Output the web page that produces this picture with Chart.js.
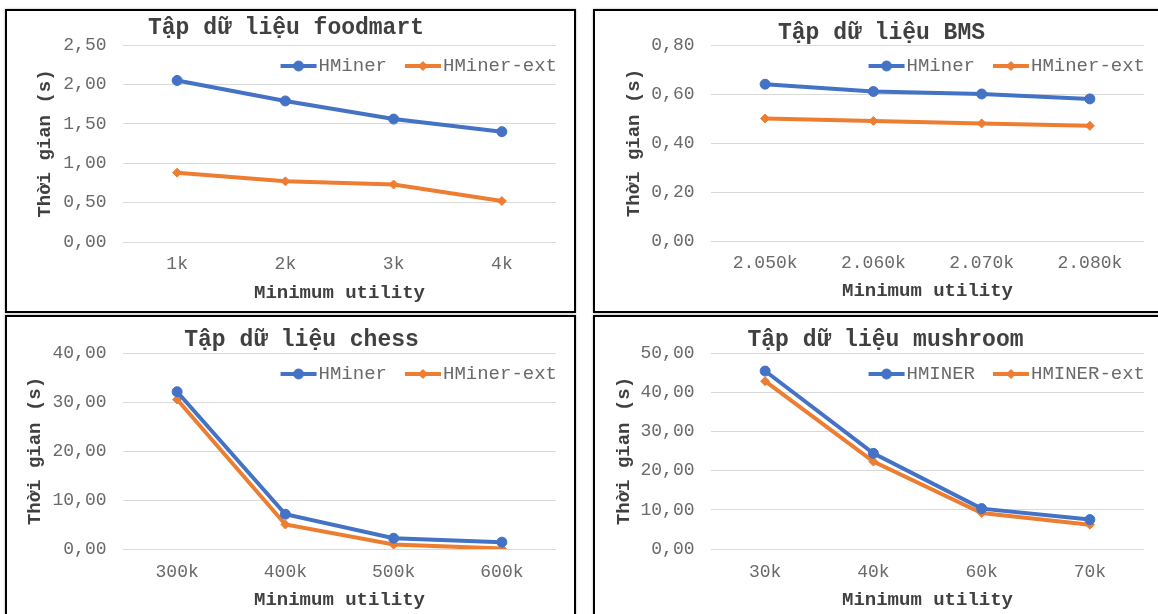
<!DOCTYPE html>
<html lang="vi">
<head>
<meta charset="utf-8">
<title>Thời gian chạy HMiner</title>
<script src="https://cdn.jsdelivr.net/npm/chart.js@4.4.1/dist/chart.umd.min.js"></script>
<style>
  html, body { margin: 0; padding: 0; background: #fff; overflow: hidden; }
  body { width: 1158px; height: 614px; position: relative; }
  .panel {
    position: absolute;
    border: 2px solid #000;
    box-shadow: 0 0 2px rgba(0, 0, 0, 0.35);
    background: #fff;
  }
  .panel canvas { display: block; }
</style>
</head>
<body>
<div class="panel" style="left:5px;top:9px"><canvas id="foodmart" width="567" height="300"></canvas></div>
<div class="panel" style="left:593px;top:9px"><canvas id="bms" width="567" height="300"></canvas></div>
<div class="panel" style="left:5px;top:315px"><canvas id="chess" width="567" height="300"></canvas></div>
<div class="panel" style="left:593px;top:315px"><canvas id="mushroom" width="567" height="300"></canvas></div>

<script>
/* ---- dữ liệu ---- */
const foodmartLabels = ['1k', '2k', '3k', '4k'];
const foodmartHMiner = [2.05, 1.79, 1.56, 1.40];
const foodmartExt    = [0.88, 0.77, 0.73, 0.52];
const foodmartTicks  = [0, 0.5, 1, 1.5, 2, 2.5];

const bmsLabels = ['2.050k', '2.060k', '2.070k', '2.080k'];
const bmsHMiner = [0.64, 0.61, 0.60, 0.58];
const bmsExt    = [0.50, 0.49, 0.48, 0.47];
const bmsTicks  = [0, 0.2, 0.4, 0.6, 0.8];

const chessLabels = ['300k', '400k', '500k', '600k'];
const chessHMiner = [32.1, 7.1, 2.2, 1.4];
const chessExt    = [30.5, 5.0, 0.9, 0.1];
const chessTicks  = [0, 10, 20, 30, 40];

const mushroomLabels = ['30k', '40k', '60k', '70k'];
const mushroomHMiner = [45.4, 24.4, 10.3, 7.5];
const mushroomExt    = [42.8, 22.3, 9.2, 6.2];
const mushroomTicks  = [0, 10, 20, 30, 40, 50];

const BLUE = '#4472C4';
const ORANGE = '#ED7D31';
const MONO = '"Liberation Mono", "Courier New", monospace';
const TXT = '#6a6a6a';
const DARK = '#404040';
const GRID = '#d9d9d9';

/* chú giải vẽ bên trong vùng đồ thị, căn phải */
const insideLegend = {
  id: 'insideLegend',
  afterDatasetsDraw(chart, args, opts) {
    const ctx = chart.ctx;
    const area = chart.chartArea;
    const y = area.top + opts.offsetY;
    let x = area.right + opts.offsetX;
    ctx.save();
    ctx.font = '19px ' + MONO;
    ctx.textBaseline = 'middle';
    ctx.textAlign = 'left';
    chart.data.datasets.slice().reverse().forEach(function (ds) {
      const w = ctx.measureText(ds.label).width;
      x -= w;
      ctx.fillStyle = TXT;
      ctx.fillText(ds.label, x, y);
      x -= opts.textGap + opts.lineLength;
      ctx.strokeStyle = ds.borderColor;
      ctx.lineWidth = ds.borderWidth;
      ctx.beginPath();
      ctx.moveTo(x, y);
      ctx.lineTo(x + opts.lineLength, y);
      ctx.stroke();
      ctx.fillStyle = ds.backgroundColor;
      ctx.lineWidth = 1;
      Chart.helpers.drawPoint(ctx, {
        pointStyle: ds.pointStyle, radius: ds.pointRadius, rotation: 0, borderWidth: 1
      }, x + opts.lineLength / 2, y);
      x -= opts.itemGap;
    });
    ctx.restore();
  }
};

function makeChart(id, title, labels, names, a, b, ticks, f) {
  const plotRight = 549;
  const plotLeft = 116;
  const H = 300;
  // lề trái dùng để dời tiêu đề; không được vượt qua nhãn trục y (bị cắt)
  const padL = Math.min(2 * f.titleX - plotRight, 40);

  return new Chart(document.getElementById(id), {
    type: 'line',
    data: {
      labels: labels,
      datasets: [
        {
          label: names[0], data: a,
          borderColor: BLUE, backgroundColor: BLUE,
          borderWidth: 4, pointStyle: 'circle', pointRadius: 5,
          pointBorderWidth: 1, tension: 0
        },
        {
          label: names[1], data: b,
          borderColor: ORANGE, backgroundColor: ORANGE,
          borderWidth: 4, pointStyle: 'rectRot', pointRadius: 4.5,
          pointBorderWidth: 1, tension: 0
        }
      ]
    },
    options: {
      responsive: false,
      animation: false,
      devicePixelRatio: 1,
      layout: { padding: { left: padL, right: 567 - plotRight, top: 0, bottom: 0 } },
      plugins: {
        legend: { display: false },
        tooltip: { enabled: false },
        title: {
          display: true,
          text: title,
          color: DARK,
          font: { family: MONO, size: 23, weight: 'bold', lineHeight: 1 },
          padding: { top: f.titleY - 11.5, bottom: f.top - f.titleY - 11.5 }
        },
        insideLegend: { offsetX: 1, offsetY: 21, lineLength: 36, textGap: 2, itemGap: 18 }
      },
      scales: {
        x: {
          offset: true,
          grid: { display: false, drawTicks: false },
          border: { display: false },
          ticks: { color: TXT, font: { family: MONO, size: 18 }, padding: f.xLabelY - f.bottom - 10.8, maxRotation: 0 },
          title: {
            display: true, text: 'Minimum utility', color: DARK,
            font: { family: MONO, size: 19, weight: 'bold' },
            padding: { top: 0, bottom: H - f.xTitleY - 11.4 }
          },
          afterFit: function (scale) { scale.height = H - f.bottom; }
        },
        y: {
          min: ticks[0],
          max: ticks[ticks.length - 1],
          grid: { color: GRID, lineWidth: 1, drawTicks: false },
          border: { display: false },
          ticks: {
            color: TXT, font: { family: MONO, size: 18 }, padding: 16.5,
            callback: function (v) { return v.toFixed(2).replace('.', ','); }
          },
          afterBuildTicks: function (scale) {
            scale.ticks = ticks.map(function (v) { return { value: v }; });
          },
          title: {
            display: true, text: 'Thời gian (s)', color: DARK,
            font: { family: MONO, size: 19, weight: 'bold' },
            padding: { top: f.yTitleX - padL - 11.4, bottom: 0 }
          },
          afterFit: function (scale) { scale.width = plotLeft - padL; }
        }
      }
    },
    plugins: [insideLegend]
  });
}

makeChart('foodmart', 'Tập dữ liệu foodmart', foodmartLabels, ['HMiner', 'HMiner-ext'],
  foodmartHMiner, foodmartExt, foodmartTicks,
  { titleX: 279, titleY: 17, top: 34, bottom: 231, yTitleX: 38, xLabelY: 253, xTitleY: 282 });

makeChart('bms', 'Tập dữ liệu BMS', bmsLabels, ['HMiner', 'HMiner-ext'],
  bmsHMiner, bmsExt, bmsTicks,
  { titleX: 286.5, titleY: 22, top: 34, bottom: 230, yTitleX: 39, xLabelY: 252, xTitleY: 280 });

makeChart('chess', 'Tập dữ liệu chess', chessLabels, ['HMiner', 'HMiner-ext'],
  chessHMiner, chessExt, chessTicks,
  { titleX: 299, titleY: 23, top: 36, bottom: 232, yTitleX: 28, xLabelY: 255, xTitleY: 283 });

makeChart('mushroom', 'Tập dữ liệu mushroom', mushroomLabels, ['HMINER', 'HMINER-ext'],
  mushroomHMiner, mushroomExt, mushroomTicks,
  { titleX: 290.5, titleY: 23, top: 36, bottom: 232, yTitleX: 29, xLabelY: 255, xTitleY: 283 });
</script>
</body>
</html>
